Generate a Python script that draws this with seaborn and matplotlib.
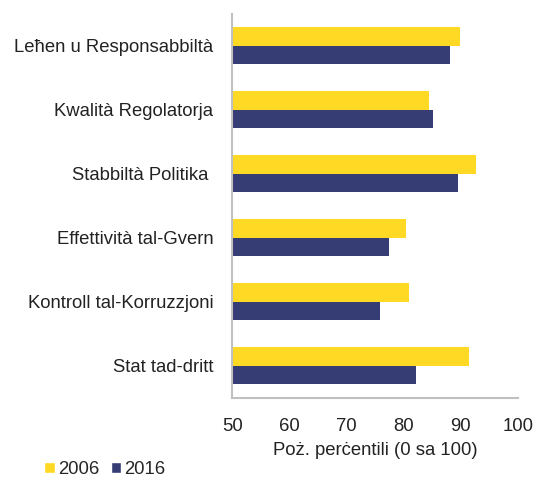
import pandas as pd
import matplotlib
matplotlib.use('Agg')
import matplotlib.pyplot as plt
import seaborn as sns
from matplotlib.patches import Patch

# Data
categories = ['Leħen u Responsabbiltà', 'Kwalità Regolatorja', 'Stabbiltà Politika ',
              'Effettività tal-Gvern', 'Kontroll tal-Korruzzjoni', 'Stat tad-dritt']
values_2006 = [89.9, 84.4, 92.7, 80.4, 81.0, 91.4]
values_2016 = [88.1, 85.1, 89.5, 77.5, 75.9, 82.2]
years = ['2006', '2016']
colors = ['#FFD923', '#363C74']

df = pd.DataFrame({
    'category': categories * 2,
    'value': values_2006 + values_2016,
    'year': [years[0]] * len(categories) + [years[1]] * len(categories),
})

sns.set_style('white')
plt.rcParams['font.family'] = ['Liberation Sans', 'DejaVu Sans']
fs = 13.3

fig = plt.figure(figsize=(5.35, 4.8), dpi=100)
ax = fig.add_axes([0.434, 0.171, 0.534, 0.8])

sns.barplot(data=df, x='value', y='category', hue='year', palette=colors,
            orient='h', width=0.58, gap=0, saturation=1, linewidth=0,
            legend=False, ax=ax)

ax.set_xlim(50, 100)
ax.set_xticks([50, 60, 70, 80, 90, 100])
ax.set_xlabel('Poż. perċentili (0 sa 100)', fontsize=fs, color='#222222', labelpad=5)
ax.set_ylabel('')
ax.tick_params(axis='both', length=0, labelsize=fs, colors='#222222')
ax.tick_params(axis='x', pad=14.5)
ax.tick_params(axis='y', pad=13.5)

for side in ['top', 'right']:
    ax.spines[side].set_visible(False)
for side in ['left', 'bottom']:
    ax.spines[side].set_color('#C0C0C0')
    ax.spines[side].set_linewidth(1.5)

handles = [Patch(facecolor=c, label=y) for c, y in zip(colors, years)]
fig.legend(handles=handles, loc='lower left', bbox_to_anchor=(0.052, -0.031), ncol=2,
           frameon=False, fontsize=fs, handlelength=0.55, handleheight=0.55,
           handletextpad=0.2, columnspacing=0.6)

fig.savefig('out.png', dpi=100)
